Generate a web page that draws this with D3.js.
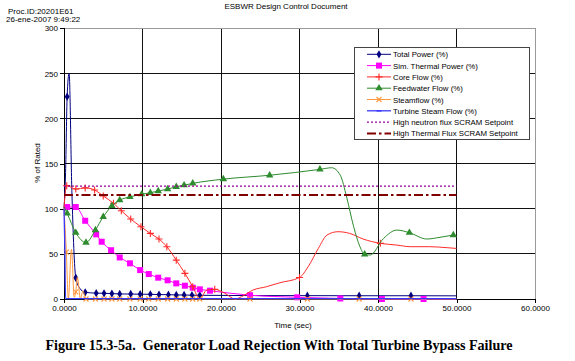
<!DOCTYPE html>
<html><head><meta charset="utf-8">
<script src="https://cdn.jsdelivr.net/npm/d3@7"></script>
<style>body{margin:0;background:#fff}svg{display:block;font-family:"Liberation Sans",Arial,sans-serif}</style>
</head><body><svg id="c" width="575" height="361"></svg>
<script>
// ---- tick labels ----
const xTicks = [0, 10, 20, 30, 40, 50, 60];
const yTicks = [0, 50, 100, 150, 200, 250, 300];

// ---- Total Power (%) ----
const tpT = [0, 0.2, 0.4, 0.65, 1.0, 1.5, 2.0, 2.7, 4.1, 5.1, 6.1, 7.1, 8.5, 9.7, 11.0, 12.1, 13.3, 14.3, 15.3, 16.3, 17.3, 24, 31, 37.6, 44.2, 50];
const tpV = [100, 140, 224, 250, 120, 23.5, 12, 7.4, 6.5, 6.3, 6.0, 5.6, 5.5, 5.3, 5.2, 4.9, 4.8, 4.5, 4.4, 4.2, 4.1, 3.8, 3.7, 3.6, 3.6, 3.5];
const tpM = [0, 0, 1, 0, 0, 1, 0, 1, 1, 1, 1, 1, 1, 1, 1, 1, 1, 1, 1, 1, 1, 0, 1, 1, 1, 0];

// ---- Sim. Thermal Power (%) ----
const stT = [0, 0.4, 1.5, 2.7, 4.1, 4.8, 6.0, 7.1, 8.4, 9.7, 10.8, 12.0, 13.2, 14.3, 15.4, 16.4, 17.3, 18.6, 23.7, 29.7, 35.2, 40.5, 45.8, 50];
const stV = [100, 101.8, 101.8, 86.6, 71.6, 63.4, 54, 46, 39.5, 32, 27.6, 23.6, 20.7, 17.3, 14.7, 12.5, 10.7, 9.2, 4.2, 1.9, 0.6, 0, 0, 0];
const stM = [0, 1, 1, 1, 1, 1, 1, 1, 1, 1, 1, 1, 1, 1, 1, 1, 1, 1, 1, 1, 1, 1, 1, 0];

// ---- Core Flow (%) ----
const cfT = [0, 0.1, 0.35, 1.5, 2.7, 3.9, 5.0, 6.3, 7.3, 8.5, 9.8, 11.0, 12.1, 13.1, 14.3, 15.4, 16.4, 17.3, 18.2, 19.2, 20.5, 21.8, 22.6, 24.1, 25.8, 27.5, 30.0, 31.1, 32.4, 33.5, 34.9, 36.4, 38.1, 40.3, 42.4, 44.1, 46.6, 48.8, 50];
const cfV = [100, 112, 125.5, 121.7, 123, 120.6, 114, 106, 97.7, 88.5, 80, 72.6, 66.4, 57.9, 43, 28.4, 13.6, 0, 10, 10.7, 6.3, 0, 2.5, 10, 13.6, 18, 23.8, 35.7, 56, 70.8, 74.5, 72.6, 66.4, 61.6, 59.7, 57.9, 57.9, 56.8, 56];
const cfM = [0, 0, 1, 1, 1, 1, 1, 1, 1, 1, 1, 1, 1, 1, 1, 1, 1, 0, 0, 1, 0, 0, 0, 0, 0, 0, 1, 0, 0, 0, 0, 0, 0, 1, 0, 0, 0, 0, 0];

// ---- Feedwater Flow (%) ----
const fwT = [0, 0.4, 1.5, 2.8, 4.0, 5.0, 6.1, 7.1, 8.4, 9.9, 11.0, 12.0, 13.2, 14.3, 15.3, 16.4, 20.3, 26.2, 32.6, 34.1, 35.2, 36.0, 36.9, 37.7, 38.3, 39.0, 40.7, 42.4, 44.0, 46.2, 47.9, 49.6];
const fwV = [102, 94.8, 73.4, 62.5, 76.3, 91, 103, 109.5, 113, 116, 117.6, 119.5, 121.7, 124.2, 126, 128, 132.7, 137, 143.5, 145.3, 137, 113, 80, 57.9, 49.4, 48.7, 67, 76.3, 73.4, 66.4, 68.3, 70.8];
const fwM = [0, 1, 1, 1, 1, 1, 1, 1, 1, 1, 1, 1, 1, 1, 1, 1, 1, 1, 1, 0, 0, 0, 0, 0, 1, 0, 0, 0, 1, 0, 0, 1];

// ---- Steamflow (%) ----
const sfT = [0, 0.3, 0.55, 0.95, 1.3, 1.5, 1.7, 2.1, 2.4, 2.8, 4.0, 5.1, 6.1, 7.1, 8.4, 9.7, 10.8, 12.0, 13.2, 14.3, 15.4, 16.4, 17.3, 23.7, 31, 37.6, 44.2, 50];
const sfV = [100, 52, 0, 55, 2, 8, 24, 0, 9, 0, 0, 0, 0, 0, 0, 0, 0, 0, 0, 0, 0, 0, 0, 0, 0, 0, 0, 0];
const sfM = [0, 1, 0, 0, 0, 1, 0, 0, 0, 1, 1, 1, 1, 1, 1, 1, 1, 1, 1, 1, 1, 1, 1, 1, 1, 1, 1, 0];

// ---- Turbine Steam Flow (%) ----
const tsT = [0, 0.1, 0.2, 50];
const tsV = [100, 60, 0.5, 0.5];
const tsM = [0, 0, 0, 0];

// ---- SCRAM setpoints ----
const spT = [0, 50];
const neutronSP = [125, 125];
const thermalSP = [115, 115];

const legendNames = ["Total Power (%)", "Sim. Thermal Power (%)", "Core Flow (%)", "Feedwater Flow (%)", "Steamflow (%)", "Turbine Steam Flow (%)", "High neutron flux SCRAM Setpoint", "High Thermal Flux SCRAM Setpoint"];

const series = [
  {name: legendNames[0], t: tpT, v: tpV, m: tpM, color: "#000080", w: 1, marker: "diamond"},
  {name: legendNames[1], t: stT, v: stV, m: stM, color: "#ff00ff", w: 1, marker: "square"},
  {name: legendNames[2], t: cfT, v: cfV, m: cfM, color: "#ff2a2a", w: 1, marker: "plus"},
  {name: legendNames[3], t: fwT, v: fwV, m: fwM, color: "#2e8b2e", w: 1, marker: "triangle"},
  {name: legendNames[4], t: sfT, v: sfV, m: sfM, color: "#ff9940", w: 1, marker: "cross"},
  {name: legendNames[5], t: tsT, v: tsV, m: tsM, color: "#3a3aff", w: 1.3, marker: "dash"},
  {name: legendNames[6], t: spT, v: neutronSP, m: [0, 0], color: "#990099", w: 1.4, dash: "2,2", marker: null},
  {name: legendNames[7], t: spT, v: thermalSP, m: [0, 0], color: "#800000", w: 2, dash: "9,3,2.5,3", marker: null}
];

const svg = d3.select("#c");
const x = d3.scaleLinear().domain([0, 60]).range([64, 535]);
const y = d3.scaleLinear().domain([0, 300]).range([299, 28]);

// header text
svg.append("text").attr("x", 8).attr("y", 13.5).attr("font-size", 8).text("Proc.ID:20201E61");
svg.append("text").attr("x", 6).attr("y", 21.5).attr("font-size", 8).text("26-ene-2007 9:49:22");
svg.append("text").attr("x", 286).attr("y", 9).attr("font-size", 8).attr("text-anchor", "middle").text("ESBWR Design Control Document");

// grid
const g = svg.append("g").attr("shape-rendering", "crispEdges");
g.selectAll(".gx").data(xTicks.filter(d => d > 0)).join("line")
  .attr("x1", d => x(d)).attr("x2", d => x(d)).attr("y1", y(300)).attr("y2", y(0))
  .attr("stroke", d => d === 60 ? "#999" : "#111").attr("stroke-width", 1);
g.selectAll(".gy").data(yTicks.filter(d => d > 0)).join("line")
  .attr("x1", x(0)).attr("x2", x(60)).attr("y1", d => y(d)).attr("y2", d => y(d))
  .attr("stroke", d => d === 300 ? "#999" : "#111").attr("stroke-width", 1);

// axes
const ax = svg.append("g").attr("transform", `translate(0,${y(0)})`)
  .call(d3.axisBottom(x).tickValues(xTicks).tickSize(4).tickPadding(2).tickFormat(d3.format(".4f")));
const ay = svg.append("g").attr("transform", `translate(${x(0)},0)`)
  .call(d3.axisLeft(y).tickValues(yTicks).tickSize(4).tickPadding(2).tickFormat(d3.format("d")));
[ax, ay].forEach(a => {
  a.attr("shape-rendering", "crispEdges");
  a.select(".domain").attr("stroke", "#000");
  a.selectAll(".tick line").attr("stroke", "#000");
  a.selectAll("text").attr("font-size", 8).attr("font-family", "Liberation Sans, Arial, sans-serif").attr("fill", "#000");
});
ay.selectAll(".tick text").attr("dy", "0.36em");

svg.append("text").attr("x", 293).attr("y", 328).attr("font-size", 8).attr("text-anchor", "middle").text("Time (sec)");
svg.append("text").attr("transform", "translate(40,163) rotate(-90)").attr("font-size", 8).attr("text-anchor", "middle").text("% of Rated");

// series lines
const lineGen = (s) => d3.line()
  .x(i => x(s.t[i])).y(i => y(s.v[i]))
  .curve(d3.curveMonotoneX)(d3.range(s.t.length));

const marker = (sel, type, color) => {
  if (type === "diamond") sel.append("path").attr("d", d3.symbol(d3.symbolDiamond, 20)()).attr("fill", color);
  else if (type === "square") sel.append("rect").attr("x", -3).attr("y", -3).attr("width", 6).attr("height", 6).attr("fill", color);
  else if (type === "plus") sel.append("path").attr("d", "M-3.5,0H3.5M0,-3.5V3.5").attr("stroke", color).attr("stroke-width", 1.1);
  else if (type === "triangle") sel.append("path").attr("d", d3.symbol(d3.symbolTriangle, 24)()).attr("fill", color);
  else if (type === "cross") sel.append("path").attr("d", "M-2.5,-2.5L2.5,2.5M-2.5,2.5L2.5,-2.5").attr("stroke", color).attr("stroke-width", 1.1);
  else if (type === "dash") sel.append("path").attr("d", "M-2.5,0H2.5").attr("stroke", color).attr("stroke-width", 1.6);
};

series.forEach(s => {
  const gg = svg.append("g");
  gg.append("path").attr("d", lineGen(s)).attr("fill", "none").attr("stroke", s.color)
    .attr("stroke-width", s.w).attr("stroke-dasharray", s.dash || null);
  if (s.marker) {
    d3.range(s.t.length).filter(i => s.m[i]).forEach(i => {
      const mg = gg.append("g").attr("transform", `translate(${x(s.t[i])},${y(s.v[i])})`);
      marker(mg, s.marker, s.color);
    });
  }
});

// legend
const lg = svg.append("g");
lg.append("rect").attr("x", 354.5).attr("y", 47.5).attr("width", 175).attr("height", 92)
  .attr("fill", "#fff").attr("stroke", "#444").attr("stroke-width", 1);
series.forEach((s, k) => {
  const yy = 54.3 + k * 11.3;
  lg.append("line").attr("x1", 367).attr("x2", 391).attr("y1", yy).attr("y2", yy)
    .attr("stroke", s.color).attr("stroke-width", s.w).attr("stroke-dasharray", s.dash || null);
  if (s.marker) marker(lg.append("g").attr("transform", `translate(379,${yy})`), s.marker, s.color);
  lg.append("text").attr("x", 393).attr("y", yy + 3).attr("font-size", 7.8).text(s.name);
});

// caption
svg.append("text").attr("x", 279).attr("y", 350).attr("text-anchor", "middle")
  .attr("font-family", "Liberation Serif, Times New Roman, serif").attr("font-weight", "bold")
  .attr("font-size", 14.1).style("white-space", "pre")
  .text("Figure 15.3-5a.  Generator Load Rejection With Total Turbine Bypass Failure");
</script></body></html>
